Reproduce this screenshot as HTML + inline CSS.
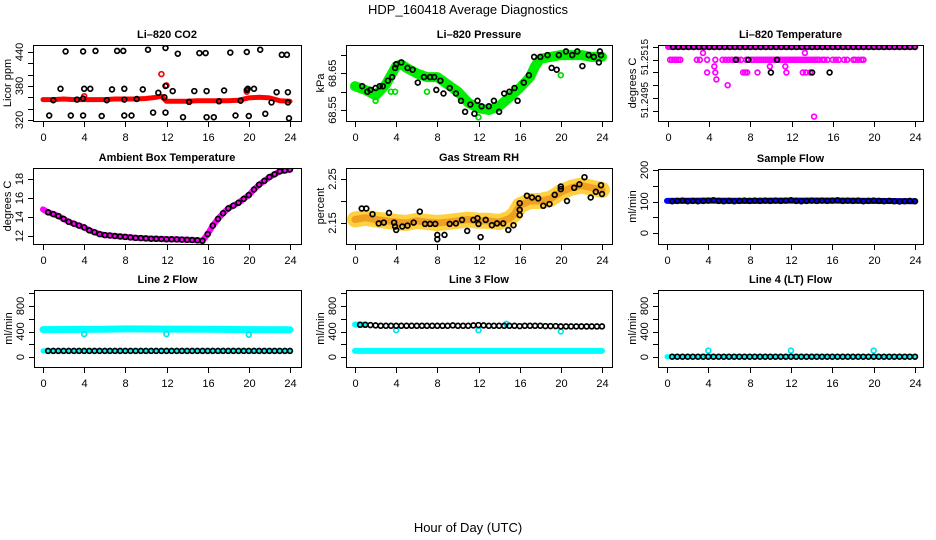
<!DOCTYPE html>
<html><head><meta charset="utf-8">
<style>
html,body{margin:0;padding:0;background:#fff;}
svg{display:block;font-family:"Liberation Sans",Arial,sans-serif;}
</style></head>
<body>
<svg id="chart" width="936" height="540" viewBox="0 0 936 540" xmlns="http://www.w3.org/2000/svg">
<rect width="936" height="540" fill="#fff"/>
<text x="468" y="14" font-size="13" text-anchor="middle">HDP_160418  Average Diagnostics</text>
<text x="468" y="532" font-size="13" text-anchor="middle">Hour of Day (UTC)</text>
</svg>
<script>
// ---------- data ----------
const xTickVals = [0,4,8,12,16,20,24];
const halfHours = [0.5,1,1.5,2,2.5,3,3.5,4,4.5,5,5.5,6,6.5,7,7.5,8,8.5,9,9.5,10,10.5,11,11.5,12,12.5,13,13.5,14,14.5,15,15.5,16,16.5,17,17.5,18,18.5,19,19.5,20,20.5,21,21.5,22,22.5,23,23.5,24];

// CO2
const co2BandH = [0,1,2,3,4,5,6,7,8,9,10,11,11.5,12,13,14,15,16,17,18,19,20,21,22,23,24];
const co2BandV = [356,356,357,356,356,356,356,357,357,357,358,360,362,353,353,353,354,354,354,354,355,359,360,359,354,353];
const co2RedOutH = [11.5,12.0,4.0,19.8];
const co2RedOutV = [401,381,362,370];
const co2BlackH = [0.6,1.0,1.7,2.2,2.7,3.3,3.9,3.9,3.9,4.0,4.6,5.1,5.7,6.2,6.7,7.2,7.8,7.9,7.9,7.9,8.6,9.1,9.7,10.2,10.7,11.2,11.8,11.9,11.9,11.9,12.6,13.1,13.6,14.2,14.7,15.2,15.8,15.9,15.9,16.6,17.1,17.6,18.2,18.7,19.2,19.8,19.8,19.9,20.0,20.5,21.1,21.6,22.2,22.7,23.2,23.7,23.8,23.8,23.9];
const co2BlackV = [328,355,375,441,328,356,328,358,441,375,375,442,327,355,374,442,442,375,328,356,328,357,374,444,333,368,360,380,333,447,371,437,325,352,371,438,438,371,325,325,353,372,439,328,354,373,440,375,327,375,444,331,351,369,435,435,369,351,323];

// Pressure
const presBandH = [0,1,2,3,4,4.5,5,6,7,8,9,10,11,12,13,14,15,16,17,17.5,18,19,20,21,22,23,24];
const presBandV = [68.615,68.605,68.59,68.62,68.67,68.675,68.665,68.65,68.64,68.64,68.62,68.60,68.57,68.555,68.55,68.56,68.585,68.61,68.64,68.67,68.69,68.695,68.70,68.70,68.70,68.695,68.695];
const presGreenOutH = [2.0,3.5,3.9,7.0,12.0,20.0];
const presGreenOutV = [68.575,68.6,68.6,68.6,68.53,68.645];
const presBlackH = [0.7,1.2,1.5,2,2.4,2.7,3.2,3.6,3.9,4.0,4.5,5.1,5.6,6.1,6.7,7.3,7.7,7.9,8.3,8.6,9.2,9.8,10.3,10.7,11.2,11.6,11.9,12.3,13.0,13.5,14.0,14.5,15.0,15.5,15.8,16.4,16.9,17.4,18.0,18.7,19.1,19.6,19.8,20.5,21.1,21.6,22.1,22.7,23.2,23.7,23.8,23.9];
const presBlackV = [68.615,68.60,68.605,68.61,68.615,68.615,68.63,68.64,68.665,68.675,68.68,68.665,68.66,68.625,68.64,68.64,68.64,68.605,68.63,68.595,68.61,68.595,68.575,68.545,68.565,68.54,68.575,68.56,68.56,68.575,68.545,68.595,68.60,68.61,68.575,68.625,68.645,68.695,68.695,68.70,68.665,68.66,68.70,68.71,68.70,68.71,68.67,68.70,68.695,68.68,68.71,68.70];

// Li-820 temperature
const tempTopH = [0,24];
const tempTopV = [51.2515,51.2515];
const tempMagH = [0.2,0.4,0.6,0.8,1.0,1.2,2.8,3.1,3.8,4.6,5.3,5.6,5.9,6.2,6.5,6.8,7.1,7.6,8.1,8.3,8.5,8.7,8.9,9.1,9.3,9.5,9.7,9.9,10.1,10.3,10.5,10.7,10.9,11.1,11.3,11.5,11.7,11.9,12.1,12.3,12.5,12.7,12.9,13.1,13.3,13.5,13.7,13.9,14.1,14.3,14.5,14.7,15.0,15.2,15.5,16.0,16.3,16.6,17.1,17.4,18.0,18.2,18.5,18.8,19.0,
                  3.8,4.6,7.3,7.5,7.7,8.7,11.5,13.1,13.4,13.8,
                  3.4,4.5,4.7,5.8,9.9,11.4,13.3,14.2];
const tempMagV = [51.2510,51.2510,51.2510,51.2510,51.2510,51.2510,51.2510,51.2510,51.2510,51.2510,51.2510,51.2510,51.2510,51.2510,51.2510,51.2510,51.2510,51.2510,51.2510,51.2510,51.2510,51.2510,51.2510,51.2510,51.2510,51.2510,51.2510,51.2510,51.2510,51.2510,51.2510,51.2510,51.2510,51.2510,51.2510,51.2510,51.2510,51.2510,51.2510,51.2510,51.2510,51.2510,51.2510,51.2510,51.2510,51.2510,51.2510,51.2510,51.2510,51.2510,51.2510,51.2510,51.2510,51.2510,51.2510,51.2510,51.2510,51.2510,51.2510,51.2510,51.2510,51.2510,51.2510,51.2510,51.2510,
                  51.2505,51.2505,51.2505,51.2505,51.2505,51.2505,51.2505,51.2505,51.2505,51.2505,
                  51.25127,51.25074,51.25023,51.2500,51.25074,51.25074,51.25127,51.24877];
const tempBlackH = halfHours.concat([6.6,7.8,10.6,10.0,14.0,15.7]);
const tempBlackV = [51.2515,51.2515,51.2515,51.2515,51.2515,51.2515,51.2515,51.2515,51.2515,51.2515,51.2515,51.2515,51.2515,51.2515,51.2515,51.2515,51.2515,51.2515,51.2515,51.2515,51.2515,51.2515,51.2515,51.2515,51.2515,51.2515,51.2515,51.2515,51.2515,51.2515,51.2515,51.2515,51.2515,51.2515,51.2515,51.2515,51.2515,51.2515,51.2515,51.2515,51.2515,51.2515,51.2515,51.2515,51.2515,51.2515,51.2515,51.2515,
                    51.2510,51.2510,51.2510,51.2505,51.2505,51.2505];

// Ambient box temperature
const ambH = [0,0.5,1,1.5,2,2.5,3,3.5,4,4.5,5,5.5,6,6.5,7,7.5,8,8.5,9,9.5,10,10.5,11,11.5,12,12.5,13,13.5,14,14.5,15,15.5,16,16.5,17,17.5,18,18.5,19,19.5,20,20.5,21,21.5,22,22.5,23,23.5,24];
const ambV = [14.8,14.5,14.3,14.1,13.8,13.5,13.3,13.1,12.9,12.6,12.4,12.2,12.1,12.05,12.0,11.95,11.9,11.85,11.8,11.78,11.75,11.72,11.7,11.68,11.66,11.65,11.64,11.62,11.6,11.58,11.55,11.5,12.2,13.1,13.8,14.4,14.9,15.2,15.5,15.9,16.3,16.9,17.4,17.8,18.2,18.5,18.8,18.9,19.0];

// Gas stream RH
const rhBandH = [0,1,2,3,4,5,6,7,8,9,10,11,12,13,14,15,15.5,16,17,18,19,20,21,22,23,24];
const rhBandV = [2.158,2.162,2.158,2.155,2.152,2.15,2.155,2.152,2.15,2.152,2.155,2.158,2.155,2.155,2.152,2.16,2.17,2.19,2.20,2.20,2.205,2.22,2.23,2.235,2.23,2.225];
const rhBlackH = [0.65,1.1,1.7,2.3,2.8,3.3,3.8,3.9,4.0,4.6,5.1,5.7,6.3,6.8,7.3,7.8,8.0,8.0,8.7,9.2,9.8,10.4,10.9,11.5,11.9,12.0,12.2,12.7,13.3,13.8,14.4,14.9,15.4,16.0,16.0,16.0,16.7,17.2,17.8,18.3,18.9,19.4,20.0,20.0,20.6,21.3,21.8,22.3,22.9,23.4,23.9,24.0];
const rhBlackV = [2.183,2.183,2.170,2.149,2.151,2.173,2.151,2.142,2.134,2.142,2.144,2.151,2.176,2.148,2.148,2.148,2.123,2.113,2.123,2.148,2.149,2.157,2.132,2.157,2.161,2.148,2.118,2.157,2.145,2.149,2.149,2.134,2.145,2.195,2.18,2.168,2.212,2.208,2.206,2.189,2.193,2.214,2.233,2.227,2.20,2.230,2.238,2.254,2.208,2.221,2.236,2.216];

// Sample flow
const sfBandH = [0,4,8,12,16,20,24];
const sfBandV = [102,103,102,103,103,102,101];
const sfBlackV = [101,102,103,101,102,101,102,103,104,102,101,102,101,102,103,102,103,102,103,102,103,102,103,104,102,101,102,103,102,103,102,103,104,102,103,102,103,101,102,103,102,101,102,101,100,101,102,101];

// Line 2 flow
const l2UpH = [0,6,8,12,16,20,24];
const l2UpV = [430,435,440,438,436,430,428];
const l2LowH = [0,24];
const l2LowV = [95,95];
const l2OutH = [4,12,20];
const l2OutV = [360,360,350];
const l2BlackV = [95,95,95,95,95,95,95,95,95,95,95,95,95,95,95,95,95,95,95,95,95,95,95,95,95,95,95,95,95,95,95,95,95,95,95,95,95,95,95,95,95,95,95,95,95,95,95,95];

// Line 3 flow
const l3UpH = [0,0.5,1];
const l3UpV = [510,505,505];
const l3LowH = [0,24];
const l3LowV = [95,95];
const l3OutH = [4,12,20,14.7];
const l3OutV = [420,420,400,520];
const l3BlackV = [505,505,500,495,490,490,490,490,490,490,490,490,490,490,490,490,490,490,495,490,490,490,495,500,495,490,490,490,490,490,490,485,490,490,490,490,485,485,485,480,480,480,480,480,480,480,480,480];

// Line 4 flow
const l4BandH = [0,24];
const l4BandV = [5,5];
const l4OutH = [4,12,20];
const l4OutV = [100,100,100];
const l4BlackV = [5,5,5,5,5,5,5,5,5,5,5,5,5,5,5,5,5,5,5,5,5,5,5,5,5,5,5,5,5,5,5,5,5,5,5,5,5,5,5,5,5,5,5,5,5,5,5,5];

// ---------- drawing ----------
const NS = "http://www.w3.org/2000/svg";
const svg = document.getElementById("chart");
function el(tag, parent){ const e=document.createElementNS(NS,tag); parent.appendChild(e); return e; }

function makePanel(cfg){
  const g = el("g", svg);
  
  
  const X = h => cfg.x0 + (h/24)*(cfg.x24-cfg.x0);
  const Y = v => cfg.p1 + (v-cfg.v1)*(cfg.p2-cfg.p1)/(cfg.v2-cfg.v1);
  const clipId = cfg.name + "-clip";
  const cp = el("clipPath", g); cp.setAttribute("id", clipId);
  const cr = el("rect", cp);
  cr.setAttribute("x", cfg.l); cr.setAttribute("y", cfg.t);
  cr.setAttribute("width", cfg.r-cfg.l); cr.setAttribute("height", cfg.b-cfg.t);
  const plot = el("g", g);
  plot.setAttribute("clip-path", "url(#"+clipId+")");
  
  
  const box = el("rect", g);
  
  
  box.setAttribute("x", cfg.l+0.5); box.setAttribute("y", cfg.t+0.5);
  box.setAttribute("width", cfg.r-cfg.l); box.setAttribute("height", cfg.b-cfg.t);
  box.setAttribute("fill","none"); box.setAttribute("stroke","#000"); box.setAttribute("stroke-width","1");
  const xa = el("g", g);
  
  
  xTickVals.forEach(v=>{
    const x = Math.round(X(v))+0.5;
    const tk = el("line", xa);
    
    
    tk.setAttribute("x1",x); tk.setAttribute("x2",x);
    tk.setAttribute("y1",cfg.b+0.5); tk.setAttribute("y2",cfg.b+6);
    tk.setAttribute("stroke","#000");
    const tl = el("text", xa);
    
    
    tl.setAttribute("x",x); tl.setAttribute("y",cfg.b+20);
    tl.setAttribute("font-size","11"); tl.setAttribute("text-anchor","middle");
    tl.textContent = v;
  });
  const ya = el("g", g);
  
  
  cfg.yticks.forEach(v=>{
    const y = Math.round(Y(v))+0.5;
    const tk = el("line", ya);
    
    
    tk.setAttribute("x1",cfg.l-5); tk.setAttribute("x2",cfg.l+0.5);
    tk.setAttribute("y1",y); tk.setAttribute("y2",y);
    tk.setAttribute("stroke","#000");
  });
  cfg.ylabels.forEach((lab,i)=>{
    const y = cfg.ylabelAt ? cfg.ylabelAt[i] : Y(lab);
    const tl = el("text", ya);
    
    
    tl.setAttribute("transform","translate("+(cfg.l-10)+","+y+") rotate(-90)");
    tl.setAttribute("font-size", cfg.ylabelSize || "11"); tl.setAttribute("text-anchor","middle");
    tl.textContent = cfg.ylabelText ? cfg.ylabelText[i] : lab;
  });
  const yt = el("text", g);
  
  
  yt.setAttribute("transform","translate("+(cfg.l-22)+","+((cfg.t+cfg.b)/2)+") rotate(-90)");
  yt.setAttribute("font-size","11"); yt.setAttribute("text-anchor","middle");
  yt.textContent = cfg.ylab;
  const tt = el("text", g);
  
  
  tt.setAttribute("x",(cfg.l+cfg.r)/2); tt.setAttribute("y",cfg.t-7);
  tt.setAttribute("font-size","11"); tt.setAttribute("font-weight","bold"); tt.setAttribute("text-anchor","middle");
  tt.textContent = cfg.title;
  return {X, Y, plot};
}

function band(p, hs, vs, color, width, name){
  const pl = el("polyline", p.plot);
  
  
  pl.setAttribute("points", hs.map((h,i)=>p.X(h).toFixed(1)+","+p.Y(vs[i]).toFixed(1)).join(" "));
  pl.setAttribute("fill","none"); pl.setAttribute("stroke",color);
  pl.setAttribute("stroke-width",width);
  pl.setAttribute("stroke-linecap","round"); pl.setAttribute("stroke-linejoin","round");
}
function dots(p, hs, vs, color, name, r){
  const g = el("g", p.plot);
  
  
  hs.forEach((h,i)=>{
    const c = el("circle", g);
    
    
    c.setAttribute("cx",p.X(h).toFixed(1)); c.setAttribute("cy",p.Y(vs[i]).toFixed(1));
    c.setAttribute("r", r||2.4); c.setAttribute("fill","none");
    c.setAttribute("stroke",color); c.setAttribute("stroke-width","1.7");
  });
}

// Row 1
const pCO2 = makePanel({name:"panel-li820-co2", title:"Li\u2013820 CO2", ylab:"Licor ppm",
  l:33,r:301,t:45,b:121,x0:43,x24:290,v1:320,p1:120,v2:440,p2:52,
  yticks:[320,340,360,380,400,420,440], ylabels:[320,380,440]});
band(pCO2, co2BandH, co2BandV, "#ff0000", 5, "co2-red-series");
dots(pCO2, co2RedOutH, co2RedOutV, "#ff0000", "co2-red-outliers");
dots(pCO2, co2BlackH, co2BlackV, "#000", "co2-black-series");

const pPres = makePanel({name:"panel-li820-pressure", title:"Li\u2013820 Pressure", ylab:"kPa",
  l:346,r:612,t:45,b:121,x0:355,x24:602,v1:68.55,p1:110,v2:68.65,p2:73.4,
  yticks:[68.55,68.60,68.65,68.70], ylabels:[68.55,68.65]});
band(pPres, presBandH, presBandV, "#00ee00", 10, "pressure-green-series");
dots(pPres, presGreenOutH, presGreenOutV, "#00dd00", "pressure-green-outliers");
dots(pPres, presBlackH, presBlackV, "#000", "pressure-black-series");

const pTemp = makePanel({name:"panel-li820-temperature", title:"Li\u2013820 Temperature", ylab:"degrees C",
  l:658,r:923,t:45,b:121,x0:668,x24:915,v1:51.2515,p1:47,v2:51.2495,p2:98,
  yticks:[51.2515,51.2510,51.2505,51.2500,51.2495,51.2490], ylabels:[0,1],
  ylabelAt:[57,100], ylabelText:["51.2515","51.2495"], ylabelSize:"10"});
band(pTemp, tempTopH, tempTopV, "#ff00ff", 6, "temperature-magenta-top");
dots(pTemp, tempMagH, tempMagV, "#ff00ff", "temperature-magenta-series");
dots(pTemp, tempBlackH, tempBlackV, "#000", "temperature-black-series");

// Row 2
const pAmb = makePanel({name:"panel-ambient-box-temperature", title:"Ambient Box Temperature", ylab:"degrees C",
  l:33,r:301,t:168,b:244,x0:43,x24:290,v1:12,p1:236,v2:18,p2:179,
  yticks:[12,14,16,18], ylabels:[12,14,16,18]});
band(pAmb, ambH, ambV, "#ff00ff", 6, "ambient-magenta-series");
dots(pAmb, ambH.slice(1), ambV.slice(1), "#000", "ambient-black-series");

const pRH = makePanel({name:"panel-gas-stream-rh", title:"Gas Stream RH", ylab:"percent",
  l:346,r:612,t:168,b:244,x0:355,x24:602,v1:2.15,p1:223,v2:2.25,p2:179,
  yticks:[2.15,2.20,2.25], ylabels:[2.15,2.25]});
band(pRH, rhBandH, rhBandV, "#ffd040", 16, "rh-yellow-series");
band(pRH, rhBandH, rhBandV, "#f0a020", 7, "rh-orange-core");
dots(pRH, rhBlackH, rhBlackV, "#000", "rh-black-series");

const pSF = makePanel({name:"panel-sample-flow", title:"Sample Flow", ylab:"ml/min",
  l:658,r:923,t:169,b:244,x0:667,x24:915,v1:0,p1:233,v2:200,p2:170,
  yticks:[0,50,100,150,200], ylabels:[0,100,200]});
band(pSF, sfBandH, sfBandV, "#0000ff", 6, "sample-flow-blue-series");
dots(pSF, halfHours, sfBlackV, "#000", "sample-flow-black-series");

// Row 3
const flowTicks = [0,200,400,600,800,1000];
const pL2 = makePanel({name:"panel-line2-flow", title:"Line 2 Flow", ylab:"ml/min",
  l:34,r:301,t:290,b:367,x0:43,x24:290,v1:0,p1:357,v2:800,p2:306,
  yticks:flowTicks, ylabels:[0,400,800]});
band(pL2, l2UpH, l2UpV, "#00ffff", 7, "line2-cyan-upper");
band(pL2, l2LowH, l2LowV, "#00ffff", 5, "line2-cyan-lower");
dots(pL2, l2OutH, l2OutV, "#00e5ee", "line2-cyan-outliers");
dots(pL2, halfHours, l2BlackV, "#000", "line2-black-series");

const pL3 = makePanel({name:"panel-line3-flow", title:"Line 3 Flow", ylab:"ml/min",
  l:346,r:612,t:290,b:367,x0:355,x24:602,v1:0,p1:357,v2:800,p2:306,
  yticks:flowTicks, ylabels:[0,400,800]});
band(pL3, l3LowH, l3LowV, "#00ffff", 6, "line3-cyan-lower");
band(pL3, l3UpH, l3UpV, "#00ffff", 6, "line3-cyan-upper");
dots(pL3, l3OutH, l3OutV, "#00e5ee", "line3-cyan-outliers");
dots(pL3, halfHours, l3BlackV, "#000", "line3-black-series");

const pL4 = makePanel({name:"panel-line4-flow", title:"Line 4 (LT) Flow", ylab:"ml/min",
  l:658,r:923,t:290,b:367,x0:667,x24:915,v1:0,p1:357,v2:800,p2:306,
  yticks:flowTicks, ylabels:[0,400,800]});
band(pL4, l4BandH, l4BandV, "#00ffff", 5, "line4-cyan-series");
dots(pL4, l4OutH, l4OutV, "#00e5ee", "line4-cyan-outliers");
dots(pL4, halfHours, l4BlackV, "#000", "line4-black-series");
</script>
</body></html>
